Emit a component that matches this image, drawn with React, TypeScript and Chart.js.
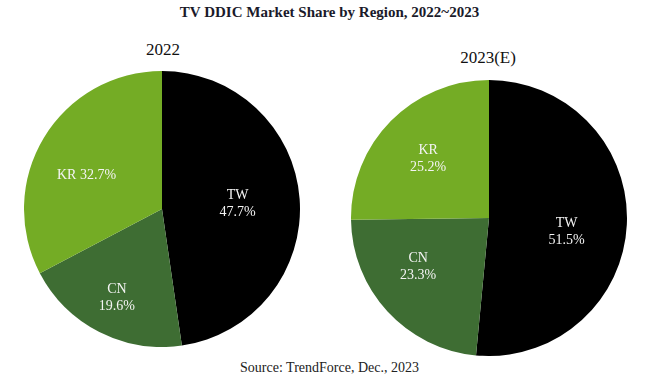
import React, { useEffect, useRef } from "react";
import { Chart, registerables } from "chart.js";

Chart.register(...registerables);

const categories = ["TW", "CN", "KR"];
const share2022 = [47.7, 19.6, 32.7];
const share2023 = [51.5, 23.3, 25.2];
const colors = ["#000000", "#3e6d33", "#74ac25"];

const labelPlugin = {
  id: "sliceLabels",
  afterDatasetsDraw(chart: any) {
    const opts = chart.options.plugins.sliceLabels;
    const ctx = chart.ctx;
    const meta = chart.getDatasetMeta(0);
    const data = chart.data.datasets[0].data as number[];
    ctx.save();
    ctx.fillStyle = "#f4f4f4";
    ctx.font = '14px "Liberation Serif", "Times New Roman", serif';
    ctx.textAlign = "center";
    ctx.textBaseline = "middle";
    meta.data.forEach((arc: any, i: number) => {
      const p = arc.getProps(["x", "y", "startAngle", "endAngle", "outerRadius"], true);
      const mid = (p.startAngle + p.endAngle) / 2 + (opts.angleNudge[i] || 0);
      const r = p.outerRadius * opts.radius[i];
      const cx = p.x + Math.cos(mid) * r;
      const cy = p.y + Math.sin(mid) * r;
      const name = chart.data.labels[i];
      const val = data[i].toFixed(1) + "%";
      if (opts.oneLine[i]) {
        ctx.fillText(name + " " + val, cx, cy);
      } else {
        ctx.fillText(name, cx, cy - 8);
        ctx.fillText(val, cx, cy + 9);
      }
    });
    ctx.restore();
  },
};

function Pie({ values, style, radius, angleNudge, oneLine }: any) {
  const ref = useRef<HTMLCanvasElement>(null);
  useEffect(() => {
    const chart = new Chart(ref.current as HTMLCanvasElement, {
      type: "pie",
      data: {
        labels: categories,
        datasets: [
          {
            data: values,
            backgroundColor: colors,
            borderWidth: 0,
          },
        ],
      },
      options: {
        animation: false,
        responsive: false,
        maintainAspectRatio: false,
        layout: { padding: 0 },
        plugins: {
          legend: { display: false },
          tooltip: { enabled: false },
          title: { display: false },
          sliceLabels: { radius, angleNudge, oneLine },
        } as any,
      },
      plugins: [labelPlugin],
    });
    return () => chart.destroy();
  }, []);
  return <canvas ref={ref} width={276} height={276} style={{ position: "absolute", ...style }} />;
}

export default function App() {
  const serif = '"Liberation Serif", "Times New Roman", serif';
  return (
    <div
      style={{
        position: "absolute",
        left: 0,
        top: 0,
        width: 659,
        height: 381,
        background: "#fff",
        fontFamily: serif,
        color: "#111",
      }}
    >
      <div
        style={{
          position: "absolute",
          top: 4,
          left: 0,
          width: 659,
          textAlign: "center",
          fontWeight: "bold",
          fontSize: 15,
          color: "#1a1a2a",
        }}
      >
        TV DDIC Market Share by Region, 2022~2023
      </div>
      <div style={{ position: "absolute", top: 40, left: 63, width: 200, textAlign: "center", fontSize: 17 }}>
        2022
      </div>
      <div style={{ position: "absolute", top: 48, left: 388, width: 200, textAlign: "center", fontSize: 17 }}>
        2023(E)
      </div>
      <Pie
        values={share2022}
        style={{ left: 24, top: 71 }}
        radius={[0.55, 0.72, 0.6]}
        angleNudge={[0, 0, -0.12]}
        oneLine={[false, false, true]}
      />
      <Pie
        values={share2023}
        style={{ left: 351, top: 80 }}
        radius={[0.57, 0.62, 0.62]}
        angleNudge={[0.12, 0.15, 0]}
        oneLine={[false, false, false]}
      />
      <div
        style={{
          position: "absolute",
          top: 360,
          left: 0,
          width: 659,
          textAlign: "center",
          fontSize: 14,
          color: "#222",
        }}
      >
        Source: TrendForce, Dec., 2023
      </div>
    </div>
  );
}
